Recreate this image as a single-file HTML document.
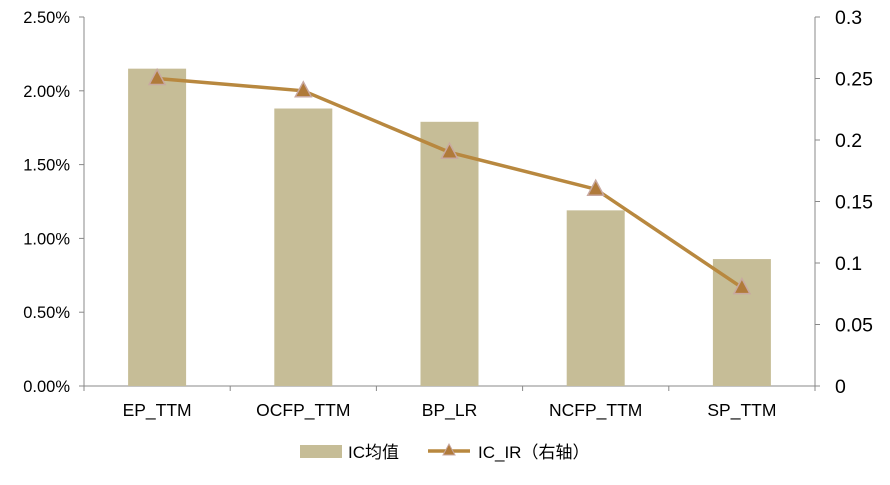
<!DOCTYPE html>
<html><head><meta charset="utf-8"><style>
body{margin:0;background:#fff;}
text{font-family:"Liberation Sans","Noto Sans CJK SC",sans-serif;font-size:16px;fill:#000;}
</style></head><body>
<svg id="chart" width="890" height="480" xmlns="http://www.w3.org/2000/svg">
<g id="g"></g>
</svg>
<script>
const categories=["EP_TTM","OCFP_TTM","BP_LR","NCFP_TTM","SP_TTM"];
const icMean=[2.15,1.88,1.79,1.19,0.86];
const icIR=[0.25,0.24,0.19,0.16,0.08];
const leftTicks=[0,0.5,1,1.5,2,2.5];
const rightTicks=[0,0.05,0.1,0.15,0.2,0.25,0.3];
const NS="http://www.w3.org/2000/svg";
const g=document.getElementById('g');
const L=84,R=815,T=17,B=386;
const yL=v=>B-(v/2.5)*(B-T);
const yR=v=>B-(v/0.3)*(B-T);
const cw=(R-L)/categories.length;
const xC=i=>L+cw*(i+0.5);
function mk(tag,attrs,txt){const e=document.createElementNS(NS,tag);for(const k in attrs)e.setAttribute(k,attrs[k]);if(txt!==undefined)e.textContent=txt;g.appendChild(e);return e;}
let a=mk('line',{x1:L,y1:T,x2:L,y2:B,stroke:'#888'});


a=mk('line',{x1:R,y1:T,x2:R,y2:B,stroke:'#888'});


a=mk('line',{x1:L,y1:B,x2:R,y2:B,stroke:'#888'});


leftTicks.forEach(v=>{
 mk('line',{x1:L-5,y1:yL(v),x2:L,y2:yL(v),stroke:'#888'});
 const t=mk('text',{x:L-14,y:yL(v)+6,'text-anchor':'end',style:'font-size:16.5px'},v.toFixed(2)+'%');
 
 
});
rightTicks.forEach(v=>{
 mk('line',{x1:R,y1:yR(v),x2:R+5,y2:yR(v),stroke:'#888'});
 const t=mk('text',{x:R+20,y:yR(v)+7,style:'font-size:19.5px'},String(v));
 
 
});
for(let i=0;i<=categories.length;i++){mk('line',{x1:L+cw*i,y1:B,x2:L+cw*i,y2:B+5,stroke:'#888'});}
categories.forEach((c,i)=>{
 const b=mk('rect',{x:xC(i)-29,y:yL(icMean[i]),width:58,height:B-yL(icMean[i]),fill:'#c6bd97'});
 
 
 const t=mk('text',{x:xC(i),y:416,'text-anchor':'middle',style:'font-size:17.5px'},c);
 
 
});
const pts=icIR.map((v,i)=>xC(i)+','+yR(v)).join(' ');
const ln=mk('polyline',{points:pts,fill:'none',stroke:'#b8883f','stroke-width':3.5});


icIR.forEach((v,i)=>{
 const x=xC(i),y=yR(v);
 const m=mk('polygon',{points:`${x},${y-9} ${x-8},${y+6} ${x+8},${y+6}`,fill:'#b07a3a',stroke:'#c8a8a0','stroke-width':1.5});
 
 
});
let lg=mk('rect',{x:300,y:445,width:42,height:13,fill:'#c6bd97'});


lg=mk('text',{x:348,y:458,style:'font-size:17px'},'IC均值');


lg=mk('line',{x1:428,y1:451,x2:470,y2:451,stroke:'#b8883f','stroke-width':3.5});


mk('polygon',{points:'449,444 443,455 455,455',fill:'#b07a3a',stroke:'#c8a8a0'});
lg=mk('text',{x:478,y:458,style:'font-size:17px'},'IC_IR（右轴）');


</script>
</body></html>
